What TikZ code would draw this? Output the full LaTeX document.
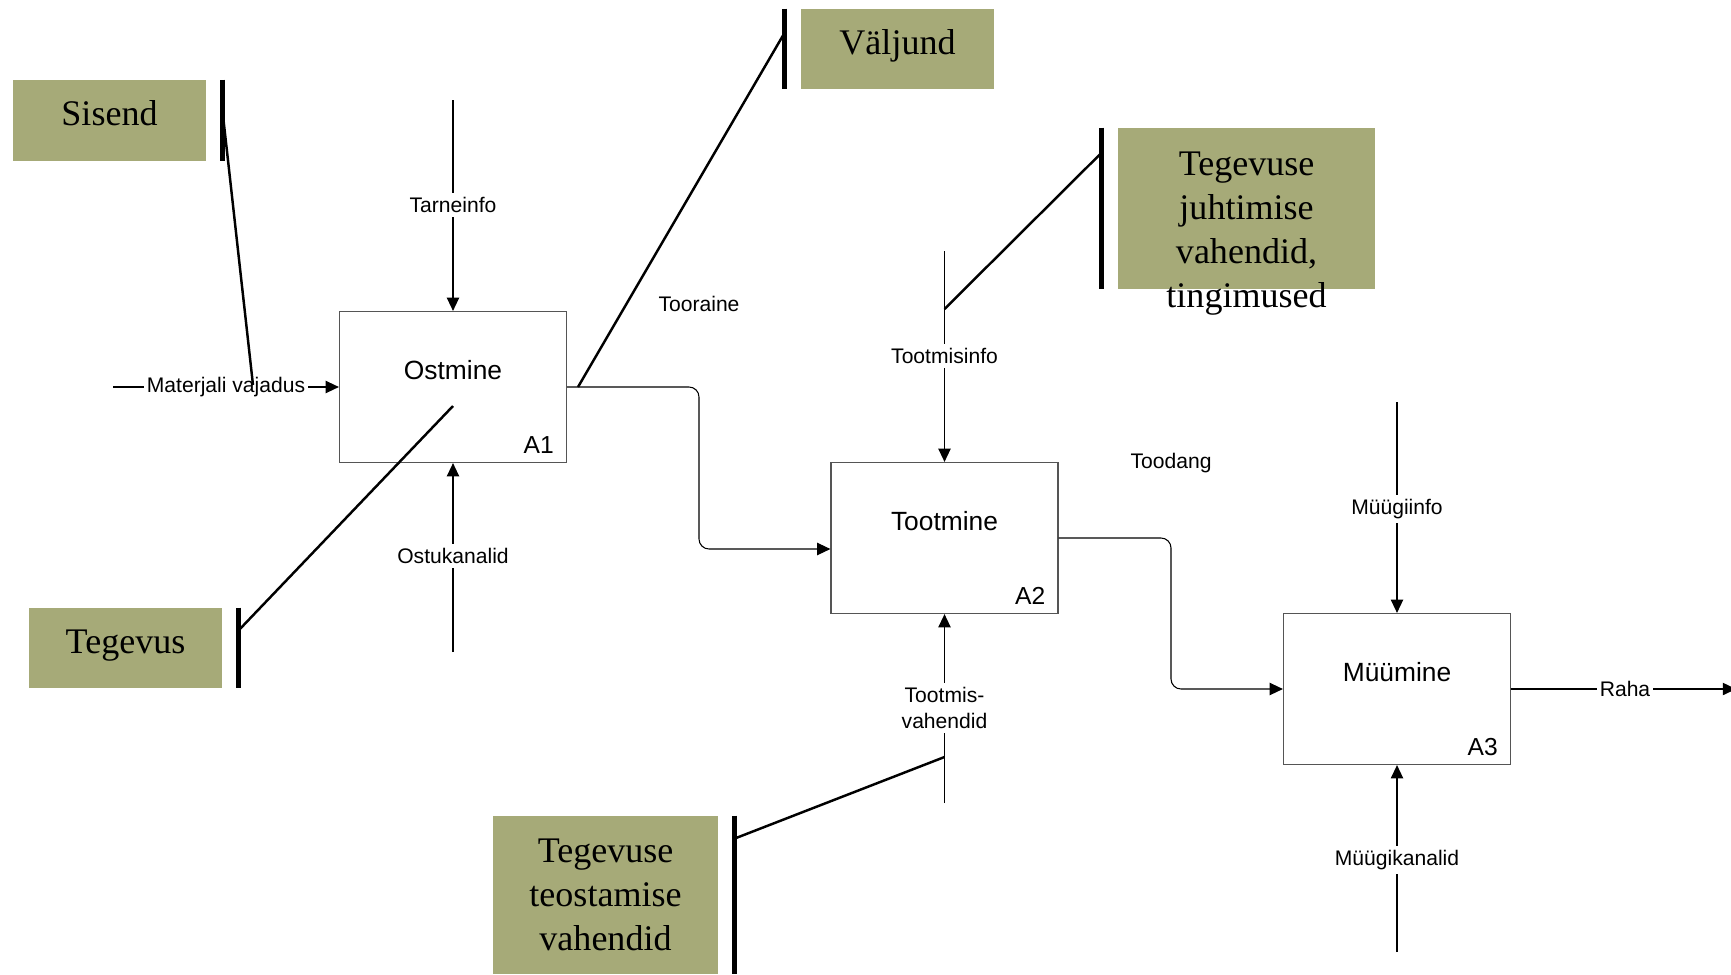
\documentclass[tikz,border=0pt]{standalone}
\usepackage{fontspec}
\setmainfont{Liberation Serif}
\setsansfont{Liberation Sans}
\usepackage{xcolor}
\usetikzlibrary{arrows.meta,positioning}
\definecolor{idefgreen}{HTML}{A6AA78}
\definecolor{idefframe}{HTML}{555555}

\begin{document}
\begin{tikzpicture}[
  proc/.style 2 args={draw=idefframe, line width=0.7pt, minimum width=4.54cm, minimum height=3.02cm,
    label={[font=\sffamily\fontsize{15}{18}\selectfont, yshift=0.34cm]center:#1},
    label={[font=\sffamily\fontsize{14}{16}\selectfont, anchor=base east, inner sep=0pt, xshift=-0.26cm, yshift=0.2cm]south east:#2}},
  flow/.style={-{Triangle[length=7.5pt,width=7pt]}, line width=0.6pt},
  lbl/.style={fill=white, inner xsep=1.5pt, inner ysep=2.5pt, font=\sffamily\fontsize{12}{14.5}\selectfont, align=center},
  callout/.style={fill=idefgreen, inner sep=0pt, font=\fontsize{20.5}{25}\selectfont, align=center},
  oneline/.style={text height=0.7em, text depth=0.12em},
  bar/.style={line width=2.6pt},
  pointer/.style={line width=1.4pt}
]
\useasboundingbox (0,0) rectangle (34.62,-19.48);

\node[proc={Ostmine}{A1}] (ostmine) at (9.06,-7.74) {};
\node[proc={Tootmine}{A2}] (tootmine) at (18.89,-10.76) {};
\node[proc={Müümine}{A3}] (myymine) at (27.94,-13.78) {};

\node[callout, oneline, minimum width=3.86cm, minimum height=1.62cm] (sisend) at (2.19,-2.41) {Sisend};
\node[callout, oneline, minimum width=3.86cm, minimum height=1.6cm] (valjund) at (17.95,-0.98) {Väljund};
\node[callout, oneline, minimum width=3.86cm, minimum height=1.6cm] (tegevus) at (2.51,-12.96) {Tegevus};
\node[callout, minimum width=5.14cm, minimum height=3.22cm] (juhtimine) at (24.93,-4.17) {};
\node[callout, fill=none] (juhtimineTxt) at ([yshift=-0.5cm]juhtimine.center) {Tegevuse\\juhtimise\\vahendid,\\tingimused};
\node[callout, minimum width=4.5cm, minimum height=3.16cm] (teostamine) at (12.11,-17.9) {Tegevuse\\teostamise\\vahendid};

\coordinate (matStart) at (2.26,-7.74);
\coordinate (tarneStart) at (9.06,-2.0);
\coordinate (ostukStart) at (9.06,-13.04);
\coordinate (tinfoStart) at (18.89,-5.02);
\coordinate (tvahStart) at (18.89,-16.06);
\coordinate (minfoStart) at (27.94,-8.04);
\coordinate (mkanStart) at (27.94,-19.04);
\coordinate (rahaEnd) at (34.72,-13.78);
\coordinate (tooraineTurn) at (13.98,-10.98);
\coordinate (toodangTurn) at (23.42,-13.78);

\draw[flow] (matStart) -- (ostmine.west);
\draw[flow] (tarneStart) -- (ostmine.north);
\draw[flow] (ostukStart) -- (ostmine.south);
\draw[flow, rounded corners=0.2cm] (ostmine.east) -| (tooraineTurn) -- ([yshift=-0.22cm]tootmine.west);
\draw[flow] (tinfoStart) -- (tootmine.north);
\draw[flow] (tvahStart) -- (tootmine.south);
\draw[flow, rounded corners=0.2cm] (tootmine.east) -| (toodangTurn) -- (myymine.west);
\draw[flow] (minfoStart) -- (myymine.north);
\draw[flow] (mkanStart) -- (myymine.south);
\draw[flow] (myymine.east) -- (rahaEnd);

\node[lbl] (matLbl) at (4.52,-7.74) {Materjali vajadus};
\node[lbl] (tarneLbl) at (9.06,-4.1) {Tarneinfo};
\node[lbl] (ostukLbl) at (9.06,-11.12) {Ostukanalid};
\node[lbl] (tooraineLbl) at (13.98,-6.08) {Tooraine};
\node[lbl] (tinfoLbl) at (18.89,-7.12) {Tootmisinfo};
\node[lbl] (tvahLbl) at (18.89,-14.16) {Tootmis-\\vahendid};
\node[lbl] (toodangLbl) at (23.42,-9.26) {Toodang};
\node[lbl] (minfoLbl) at (27.94,-10.18) {Müügiinfo};
\node[lbl] (mkanLbl) at (27.94,-17.2) {Müügikanalid};
\node[lbl] (rahaLbl) at (32.5,-13.78) {Raha};

\coordinate (sisendTip) at (5.06,-7.7);
\coordinate (valjundTip) at (11.56,-7.74);
\coordinate (juhtTip) at (18.89,-6.18);
\coordinate (tegevusTip) at (9.06,-8.12);
\coordinate (teostTip) at (18.89,-15.14);

\draw[bar] ([xshift=0.32cm]sisend.north east) -- ([xshift=0.32cm]sisend.south east);
\draw[bar] ([xshift=-0.32cm]valjund.north west) -- ([xshift=-0.32cm]valjund.south west);
\draw[bar] ([xshift=0.32cm]tegevus.north east) -- ([xshift=0.32cm]tegevus.south east);
\draw[bar] ([xshift=-0.32cm]juhtimine.north west) -- ([xshift=-0.32cm]juhtimine.south west);
\draw[bar] ([xshift=0.32cm]teostamine.north east) -- ([xshift=0.32cm]teostamine.south east);

\draw[pointer] ([xshift=0.32cm,yshift=-0.6cm]sisend.north east) -- (sisendTip);
\draw[pointer] ([xshift=-0.32cm,yshift=-0.48cm]valjund.north west) -- (valjundTip);
\draw[pointer] ([xshift=0.32cm,yshift=-0.46cm]tegevus.north east) -- (tegevusTip);
\draw[pointer] ([xshift=-0.32cm,yshift=-0.5cm]juhtimine.north west) -- (juhtTip);
\draw[pointer] ([xshift=0.32cm,yshift=-0.46cm]teostamine.north east) -- (teostTip);

\end{tikzpicture}
\end{document}
